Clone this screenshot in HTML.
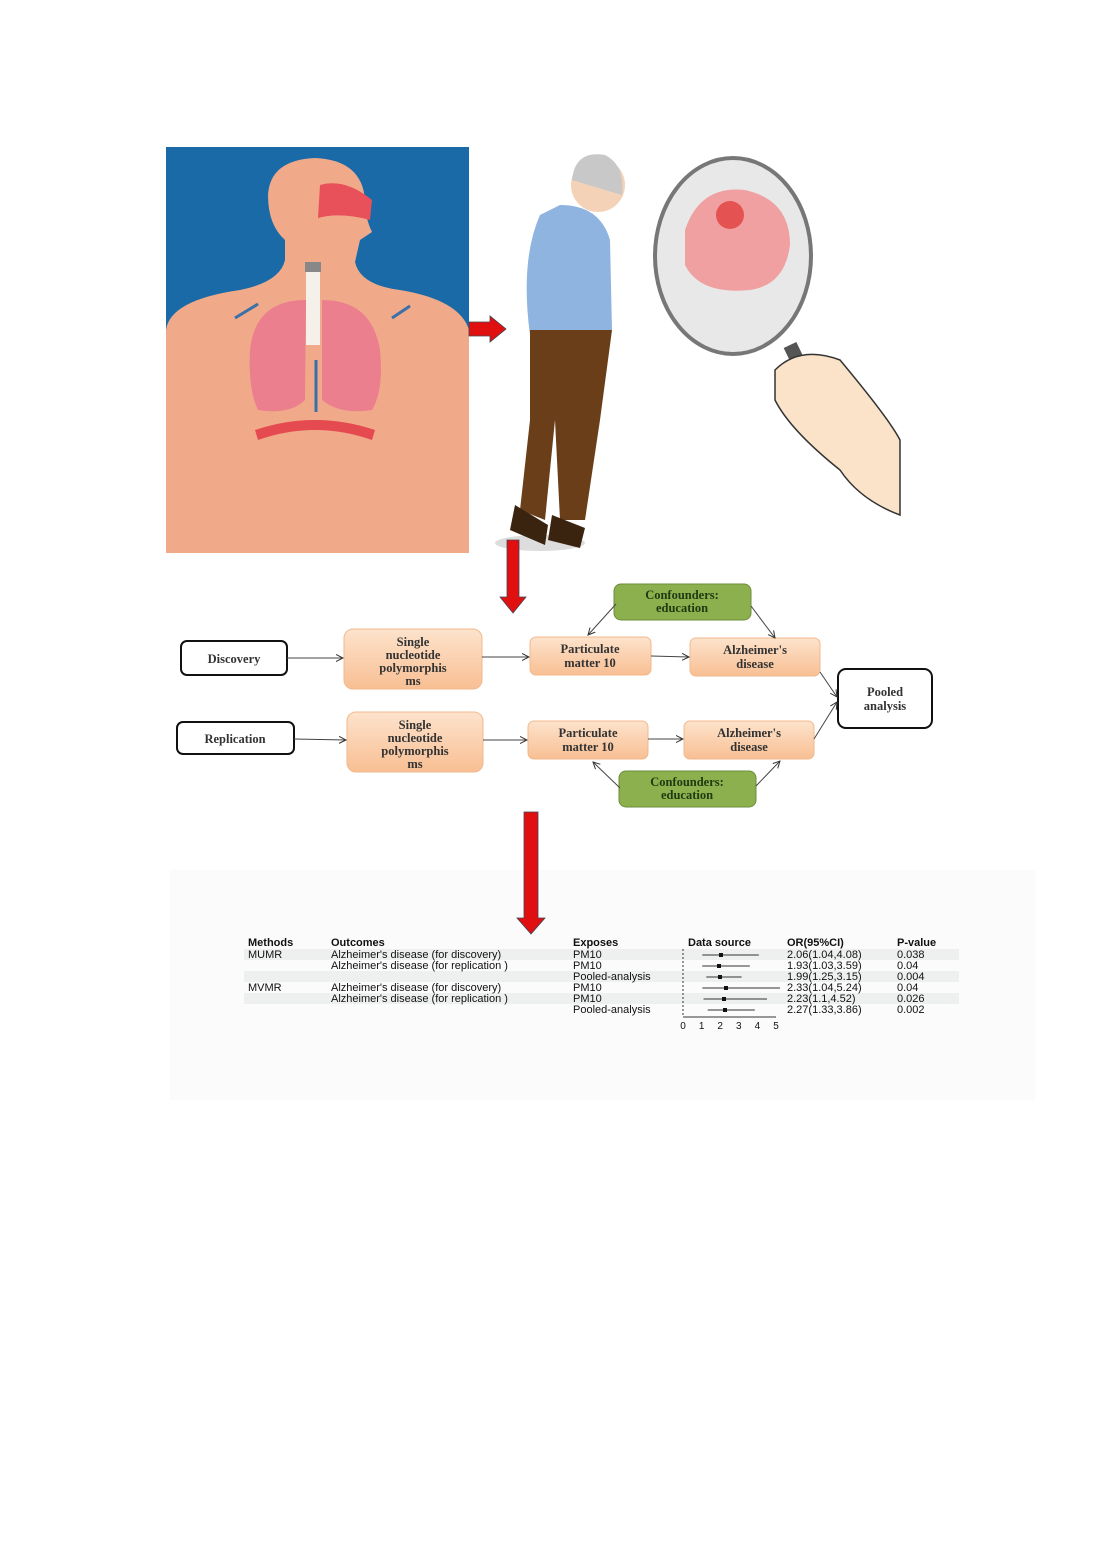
<!DOCTYPE html>
<html><head><meta charset="utf-8"><style>
body{margin:0;background:#fff;}
svg{display:block}
</style></head><body>
<svg width="1102" height="1559" viewBox="0 0 1102 1559" xmlns="http://www.w3.org/2000/svg" font-family="Liberation Serif, serif">
<defs>
<linearGradient id="or" x1="0" y1="0" x2="0" y2="1"><stop offset="0" stop-color="#fde3cc"/><stop offset="1" stop-color="#f8bf93"/></linearGradient>
<marker id="ah" markerWidth="8" markerHeight="8" refX="7" refY="4" orient="auto"><path d="M0,0.5 L7,4 L0,7.5" fill="none" stroke="#333" stroke-width="1"/></marker>
</defs>
<!-- faint background -->
<rect x="170" y="870" width="865" height="230" fill="#fbfbfc"/>
<!-- left anatomy panel -->
<rect x="166" y="147" width="303" height="406" fill="#1a6aa8"/>
<path d="M166,553 L166,330 Q170,300 240,290 Q280,282 285,260 L285,240 Q268,225 268,195 Q270,160 315,158 Q362,160 365,200 Q365,218 372,232 L360,240 L355,262 Q360,285 400,290 Q460,300 469,330 L469,553 Z" fill="#f0aa8a"/>
<path d="M320,185 Q345,178 372,200 L370,220 Q340,212 318,218 Z" fill="#e8505a"/>
<rect x="306" y="270" width="14" height="75" fill="#f5f0ea"/>
<rect x="305" y="262" width="16" height="10" fill="#888"/>
<path d="M306,300 Q255,300 250,350 Q248,390 258,410 Q290,415 305,400 Z" fill="#ec7f8e"/>
<path d="M322,300 Q372,300 380,350 Q384,390 372,410 Q340,415 322,400 Z" fill="#ec7f8e"/>
<path d="M255,430 Q315,410 375,430 L372,440 Q315,420 258,440 Z" fill="#e44a50"/>
<path d="M235,318 L258,304 M392,318 L410,306 M316,360 L316,412" stroke="#3a70a8" stroke-width="3"/>
<!-- old man -->
<ellipse cx="540" cy="543" rx="45" ry="8" fill="#ddd"/>
<circle cx="598" cy="185" r="27" fill="#f3d2b8"/>
<path d="M572,180 Q575,150 605,155 Q625,165 622,195" fill="#c8c8c8"/>
<path d="M560,205 Q600,205 610,240 L612,330 L530,335 Q520,260 540,215 Z" fill="#8fb4e0"/>
<path d="M530,330 L612,330 L600,420 L585,520 L560,520 L555,420 L545,520 L520,510 L530,420 Z" fill="#6b3e1a"/>
<path d="M515,505 L548,525 L545,545 L510,530 Z M552,515 L585,528 L580,548 L548,540 Z" fill="#3a2410"/>
<!-- magnifier -->
<ellipse cx="733" cy="256" rx="78" ry="98" fill="#e8e8e8" stroke="#777" stroke-width="4"/>
<path d="M685,230 Q700,185 745,190 Q790,200 790,245 Q785,285 750,290 Q700,295 685,265 Z" fill="#f0a0a0"/>
<circle cx="730" cy="215" r="14" fill="#e03030" opacity="0.7"/>
<path d="M790,345 L850,470" stroke="#555" stroke-width="14"/>
<path d="M775,370 Q800,345 840,360 Q890,420 900,440 L900,515 Q860,500 840,470 Q790,430 775,400 Z" fill="#fae3c8" stroke="#333" stroke-width="1.5"/>
<!-- red arrows -->
<path d="M469,322 L490,322 L490,316 L506,329 L490,342 L490,336 L469,336 Z" fill="#e01010" stroke="#445" stroke-width="0.8"/>
<path d="M507,540 L519,540 L519,597 L526,597 L513,613 L500,597 L507,597 Z" fill="#e01010" stroke="#445" stroke-width="0.8"/>
<path d="M524,812 L538,812 L538,918 L545,918 L531,934 L517,918 L524,918 Z" fill="#e01010" stroke="#445" stroke-width="0.8"/>
<!-- flowchart -->
<g font-weight="bold" font-size="12.5" fill="#333" text-anchor="middle">
<rect x="181" y="641" width="106" height="34" rx="6" fill="#fff" stroke="#111" stroke-width="2"/>
<text x="234" y="663">Discovery</text>
<rect x="177" y="722" width="117" height="32" rx="6" fill="#fff" stroke="#111" stroke-width="2"/>
<text x="235" y="743">Replication</text>
<rect x="838" y="669" width="94" height="59" rx="8" fill="#fff" stroke="#111" stroke-width="2"/>
<text x="885" y="696">Pooled</text><text x="885" y="710">analysis</text>
<rect x="344" y="629" width="138" height="60" rx="9" fill="url(#or)" stroke="#f2b88c"/>
<text x="413" y="646">Single</text><text x="413" y="659">nucleotide</text><text x="413" y="672">polymorphis</text><text x="413" y="685">ms</text>
<rect x="347" y="712" width="136" height="60" rx="9" fill="url(#or)" stroke="#f2b88c"/>
<text x="415" y="729">Single</text><text x="415" y="742">nucleotide</text><text x="415" y="755">polymorphis</text><text x="415" y="768">ms</text>
<rect x="530" y="637" width="121" height="38" rx="6" fill="url(#or)" stroke="#f2b88c"/>
<text x="590" y="653">Particulate</text><text x="590" y="667">matter 10</text>
<rect x="528" y="721" width="120" height="38" rx="6" fill="url(#or)" stroke="#f2b88c"/>
<text x="588" y="737">Particulate</text><text x="588" y="751">matter 10</text>
<rect x="690" y="638" width="130" height="38" rx="6" fill="url(#or)" stroke="#f2b88c"/>
<text x="755" y="654">Alzheimer's</text><text x="755" y="668">disease</text>
<rect x="684" y="721" width="130" height="38" rx="6" fill="url(#or)" stroke="#f2b88c"/>
<text x="749" y="737">Alzheimer's</text><text x="749" y="751">disease</text>
<rect x="614" y="584" width="137" height="36" rx="7" fill="#8db04e" stroke="#6d8e38"/>
<text x="682" y="599" fill="#1d3a10">Confounders:</text><text x="682" y="612" fill="#1d3a10">education</text>
<rect x="619" y="771" width="137" height="36" rx="7" fill="#8db04e" stroke="#6d8e38"/>
<text x="687" y="786" fill="#1d3a10">Confounders:</text><text x="687" y="799" fill="#1d3a10">education</text>
</g>
<g stroke="#444" stroke-width="1" fill="none" marker-end="url(#ah)">
<line x1="287" y1="658" x2="343" y2="658"/>
<line x1="482" y1="657" x2="529" y2="657"/>
<line x1="651" y1="656" x2="689" y2="657"/>
<line x1="294" y1="739" x2="346" y2="740"/>
<line x1="483" y1="740" x2="527" y2="740"/>
<line x1="648" y1="739" x2="683" y2="739"/>
<line x1="616" y1="604" x2="588" y2="635"/>
<line x1="751" y1="606" x2="775" y2="638"/>
<line x1="620" y1="788" x2="593" y2="762"/>
<line x1="756" y1="786" x2="780" y2="761"/>
<line x1="820" y1="672" x2="837" y2="697"/>
<line x1="814" y1="739" x2="837" y2="702"/>
</g>
<!-- table -->
<g font-family="Liberation Sans, sans-serif" font-size="11" fill="#111">
<rect x="244" y="949" width="715" height="11" fill="#eef0f0"/>
<rect x="244" y="971" width="715" height="11" fill="#eef0f0"/>
<rect x="244" y="993" width="715" height="11" fill="#eef0f0"/>
<g font-weight="bold"><text x="248" y="946">Methods</text><text x="331" y="946">Outcomes</text><text x="573" y="946">Exposes</text><text x="688" y="946">Data source</text><text x="787" y="946">OR(95%CI)</text><text x="897" y="946">P-value</text></g>
<text x="248" y="958">MUMR</text><text x="331" y="958">Alzheimer's disease (for discovery)</text><text x="573" y="958">PM10</text><text x="787" y="958">2.06(1.04,4.08)</text><text x="897" y="958">0.038</text>
<text x="331" y="969">Alzheimer's disease (for replication )</text><text x="573" y="969">PM10</text><text x="787" y="969">1.93(1.03,3.59)</text><text x="897" y="969">0.04</text>
<text x="573" y="980">Pooled-analysis</text><text x="787" y="980">1.99(1.25,3.15)</text><text x="897" y="980">0.004</text>
<text x="248" y="991">MVMR</text><text x="331" y="991">Alzheimer's disease (for discovery)</text><text x="573" y="991">PM10</text><text x="787" y="991">2.33(1.04,5.24)</text><text x="897" y="991">0.04</text>
<text x="331" y="1002">Alzheimer's disease (for replication )</text><text x="573" y="1002">PM10</text><text x="787" y="1002">2.23(1.1,4.52)</text><text x="897" y="1002">0.026</text>
<text x="573" y="1013">Pooled-analysis</text><text x="787" y="1013">2.27(1.33,3.86)</text><text x="897" y="1013">0.002</text>
<g font-size="10" text-anchor="middle"><text x="683" y="1029">0</text><text x="701.6" y="1029">1</text><text x="720.2" y="1029">2</text><text x="738.8" y="1029">3</text><text x="757.4" y="1029">4</text><text x="776" y="1029">5</text></g>
</g>
<g stroke="#333" stroke-width="1">
<line x1="683" y1="949" x2="683" y2="1017" stroke-dasharray="2,2"/>
<line x1="683" y1="1017" x2="776" y2="1017"/>
<line x1="702.3" y1="955" x2="758.9" y2="955"/>
<line x1="702.2" y1="966" x2="749.8" y2="966"/>
<line x1="706.3" y1="977" x2="741.6" y2="977"/>
<line x1="702.3" y1="988" x2="780" y2="988"/>
<line x1="703.5" y1="999" x2="767" y2="999"/>
<line x1="707.7" y1="1010" x2="754.8" y2="1010"/>
</g>
<g fill="#111">
<rect x="719" y="953" width="4" height="4"/><rect x="717" y="964" width="4" height="4"/><rect x="718" y="975" width="4" height="4"/>
<rect x="724" y="986" width="4" height="4"/><rect x="722" y="997" width="4" height="4"/><rect x="723" y="1008" width="4" height="4"/>
</g>
</svg>
</body></html>
